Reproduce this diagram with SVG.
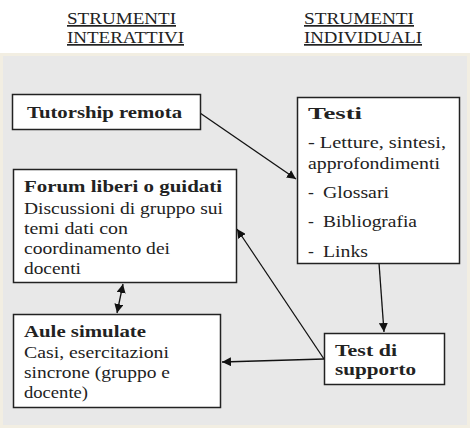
<svg xmlns="http://www.w3.org/2000/svg" width="471" height="428" viewBox="0 0 471 428" font-family="Liberation Serif, serif">
<defs>
<style>
.t{fill:#222}
.h{font-size:17px;text-decoration:underline}
.b{font-size:17.5px;font-weight:bold}
.r{font-size:17.5px}
.box{fill:#fff;stroke:#222;stroke-width:1.5}
.c{stroke:#111;stroke-width:1.3;fill:none}
</style>
<marker id="ah" viewBox="0 0 10 10" refX="10" refY="5" markerWidth="9" markerHeight="9" markerUnits="userSpaceOnUse" orient="auto-start-reverse"><path d="M0,0 L10,5 L0,10 z" fill="#111"/></marker>
</defs>
<rect x="0" y="0" width="471" height="428" fill="#fff"/>
<rect x="1.5" y="54.5" width="467" height="372" fill="#e8e8e8" stroke="#f2eee2" stroke-width="3"/>
<g id="headers" font-family="Liberation Serif" fill="#222">
<text class="h" x="67" y="24" textLength="109" lengthAdjust="spacingAndGlyphs">STRUMENTI</text>
<text class="h" x="67" y="43" textLength="117" lengthAdjust="spacingAndGlyphs">INTERATTIVI</text>
<text class="h" x="304" y="24" textLength="110" lengthAdjust="spacingAndGlyphs">STRUMENTI</text>
<text class="h" x="304" y="43" textLength="118" lengthAdjust="spacingAndGlyphs">INDIVIDUALI</text>
</g>
<g id="connectors">
<line class="c" x1="200" y1="113" x2="296" y2="179" marker-end="url(#ah)"/>
<line class="c" x1="379" y1="263" x2="384" y2="332" marker-end="url(#ah)"/>
<line class="c" x1="324" y1="359" x2="222" y2="362" marker-end="url(#ah)"/>
<line class="c" x1="324" y1="359" x2="237" y2="229" marker-end="url(#ah)"/>
<line class="c" x1="123" y1="284" x2="117" y2="313" marker-start="url(#ah)" marker-end="url(#ah)"/>
</g>
<g id="tutorship" font-family="Liberation Serif" fill="#222">
<rect class="box" x="12.5" y="94.5" width="188" height="35"/>
<text class="b" x="27" y="118" textLength="155" lengthAdjust="spacingAndGlyphs">Tutorship remota</text>
</g>
<g id="testi" font-family="Liberation Serif" fill="#222">
<rect class="box" x="297.5" y="97.5" width="162" height="166"/>
<text class="b" x="308" y="119" textLength="54" lengthAdjust="spacingAndGlyphs">Testi</text>
<text class="r" x="308" y="148" textLength="138" lengthAdjust="spacingAndGlyphs">- Letture, sintesi,</text>
<text class="r" x="308" y="169" textLength="132" lengthAdjust="spacingAndGlyphs">approfondimenti</text>
<text class="r" x="308" y="198">-</text><text class="r" x="323" y="198" textLength="66" lengthAdjust="spacingAndGlyphs">Glossari</text>
<text class="r" x="308" y="227">-</text><text class="r" x="323" y="227" textLength="94" lengthAdjust="spacingAndGlyphs">Bibliografia</text>
<text class="r" x="308" y="257">-</text><text class="r" x="323" y="257" textLength="45" lengthAdjust="spacingAndGlyphs">Links</text>
</g>
<g id="forum" font-family="Liberation Serif" fill="#222">
<rect class="box" x="13.5" y="169.5" width="223" height="113"/>
<text class="b" x="24" y="192" textLength="198" lengthAdjust="spacingAndGlyphs">Forum liberi o guidati</text>
<text class="r" x="24" y="214" textLength="199" lengthAdjust="spacingAndGlyphs">Discussioni di gruppo sui</text>
<text class="r" x="24" y="234" textLength="104" lengthAdjust="spacingAndGlyphs">temi dati con</text>
<text class="r" x="24" y="254" textLength="146" lengthAdjust="spacingAndGlyphs">coordinamento dei</text>
<text class="r" x="24" y="274" textLength="57" lengthAdjust="spacingAndGlyphs">docenti</text>
</g>
<g id="aule" font-family="Liberation Serif" fill="#222">
<rect class="box" x="13.5" y="314.5" width="207" height="93"/>
<text class="b" x="24" y="337" textLength="122" lengthAdjust="spacingAndGlyphs">Aule simulate</text>
<text class="r" x="24" y="358" textLength="145" lengthAdjust="spacingAndGlyphs">Casi, esercitazioni</text>
<text class="r" x="24" y="378" textLength="146" lengthAdjust="spacingAndGlyphs">sincrone (gruppo e</text>
<text class="r" x="24" y="398" textLength="64" lengthAdjust="spacingAndGlyphs">docente)</text>
</g>
<g id="test-supporto" font-family="Liberation Serif" fill="#222">
<rect class="box" x="324.5" y="333.5" width="120" height="51"/>
<text class="b" x="335" y="356" textLength="62" lengthAdjust="spacingAndGlyphs">Test di</text>
<text class="b" x="335" y="375" textLength="81" lengthAdjust="spacingAndGlyphs">supporto</text>
</g>
</svg>
